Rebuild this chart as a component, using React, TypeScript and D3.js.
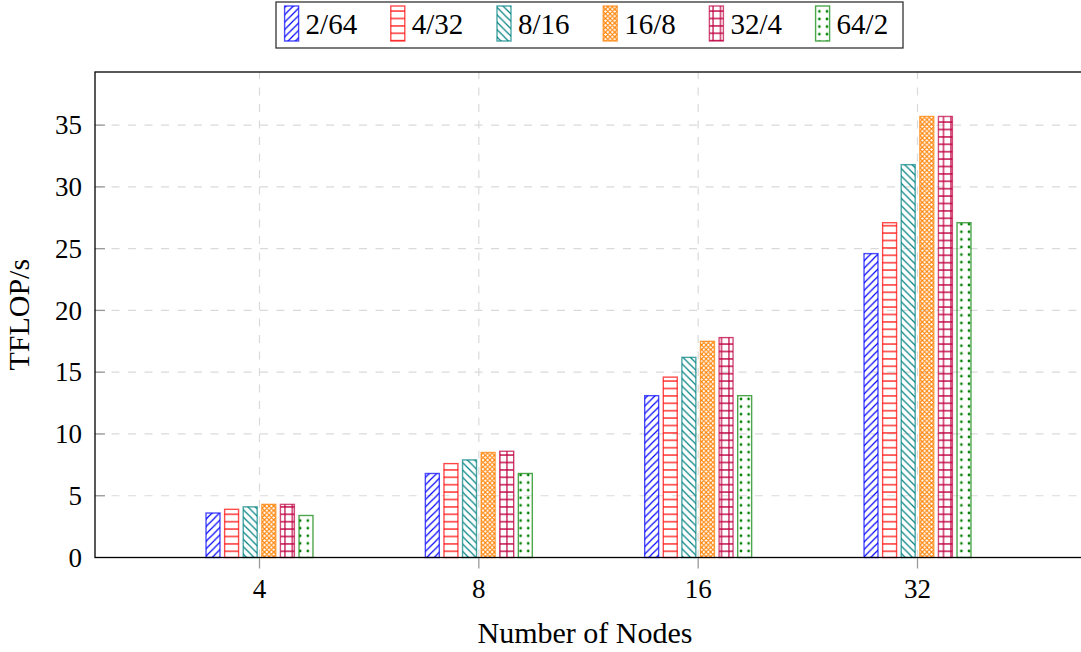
import React from "react";
import * as d3 from "d3";

// Node counts on the x axis and the configuration series (ranks / threads)
const nodeCounts = ["4", "8", "16", "32"];
const seriesNames = ["2/64", "4/32", "8/16", "16/8", "32/4", "64/2"];
const seriesColors = ["#0000ff", "#ff0000", "#008080", "#ff8000", "#bf0040", "#008000"];
const patternKinds = ["nelines", "hlines", "nwlines", "xdots", "grid", "dots"];

// TFLOP/s per series, one value per node count
const tflops2x64 = [3.6, 6.8, 13.1, 24.6];
const tflops4x32 = [3.9, 7.6, 14.6, 27.1];
const tflops8x16 = [4.1, 7.9, 16.2, 31.8];
const tflops16x8 = [4.3, 8.5, 17.5, 35.7];
const tflops32x4 = [4.3, 8.6, 17.8, 35.7];
const tflops64x2 = [3.4, 6.8, 13.1, 27.1];
const seriesValues = [tflops2x64, tflops4x32, tflops8x16, tflops16x8, tflops32x4, tflops64x2];

const yTicks = [0, 5, 10, 15, 20, 25, 30, 35];

const W = 1081;
const H = 652;
const left = 95;
const right = 1082;
const top = 72;
const bottom = 557.5;
const FONT = "'Liberation Serif', 'Times New Roman', serif";

function PatternDef({ id, kind, color }: { id: string; kind: string; color: string }) {
  const lw = 1.2;
  if (kind === "nelines") {
    const s = 7.4;
    return (
      <pattern id={id} patternUnits="userSpaceOnUse" width={s} height={s}>
        <path d={`M0,${s} L${s},0 M${-s / 2},${s / 2} L${s / 2},${-s / 2} M${s / 2},${s * 1.5} L${s * 1.5},${s / 2}`} stroke={color} strokeWidth={lw} />
      </pattern>
    );
  }
  if (kind === "nwlines") {
    const s = 7.4;
    return (
      <pattern id={id} patternUnits="userSpaceOnUse" width={s} height={s}>
        <path d={`M0,0 L${s},${s} M${-s / 2},${s / 2} L${s / 2},${s * 1.5} M${s / 2},${-s / 2} L${s * 1.5},${s / 2}`} stroke={color} strokeWidth={lw} />
      </pattern>
    );
  }
  if (kind === "hlines") {
    const s = 7.4;
    return (
      <pattern id={id} patternUnits="userSpaceOnUse" width={s} height={s}>
        <path d={`M0,${s / 2} L${s},${s / 2}`} stroke={color} strokeWidth={lw} />
      </pattern>
    );
  }
  if (kind === "grid") {
    const s = 7.4;
    return (
      <pattern id={id} patternUnits="userSpaceOnUse" width={s} height={s}>
        <path d={`M0,${s / 2} L${s},${s / 2} M${s / 2},0 L${s / 2},${s}`} stroke={color} strokeWidth={lw} />
      </pattern>
    );
  }
  if (kind === "xdots") {
    const s = 4.6;
    return (
      <pattern id={id} patternUnits="userSpaceOnUse" width={s} height={s}>
        <path d={`M0,${s / 2} L${s / 2},0 L${s},${s / 2} L${s / 2},${s} Z`} fill="none" stroke={color} strokeWidth={1.1} />
      </pattern>
    );
  }
  const s = 7.6;
  return (
    <pattern id={id} patternUnits="userSpaceOnUse" width={s} height={s}>
      <circle cx={s / 2} cy={s / 2} r={1.35} fill={color} />
    </pattern>
  );
}

export default function App() {
  const x = d3.scaleLinear().domain([-0.75, nodeCounts.length - 0.25]).range([left, right]);
  const y = d3.scaleLinear().domain([0, 39.3]).range([bottom, top]);
  const offset = d3
    .scaleBand<string>()
    .domain(seriesNames)
    .range([-55.8, 55.8])
    .paddingInner(0.25)
    .paddingOuter(0.125);

  const legendX = d3.scaleLinear().domain([0, 1]).range([284.6, 390.8]);

  return (
    <svg
      width={W}
      height={H}
      viewBox={`0 0 ${W} ${H}`}
      style={{ position: "absolute", left: 0, top: 0, background: "#fff" }}
      fontFamily={FONT}
    >
      <defs>
        {seriesNames.map((s, i) => (
          <PatternDef key={s} id={`pat-${i}`} kind={patternKinds[i]} color={seriesColors[i]} />
        ))}
      </defs>

      {/* grid */}
      <g stroke="#dadada" strokeWidth={1.2} strokeDasharray="8,8.5" fill="none">
        {yTicks.slice(1).map((t) => (
          <line key={`gy${t}`} x1={left} x2={right} y1={y(t)} y2={y(t)} />
        ))}
        {nodeCounts.map((n, i) => (
          <line key={`gx${n}`} x1={x(i)} x2={x(i)} y1={bottom} y2={top} />
        ))}
      </g>

      {/* tick marks */}
      <g stroke="#9a9a9a" strokeWidth={1.3}>
        {yTicks.slice(1).map((t) => (
          <line key={`ty${t}`} x1={left} x2={left + 10} y1={y(t)} y2={y(t)} />
        ))}
        {nodeCounts.map((n, i) => (
          <line key={`tx${n}`} x1={x(i)} x2={x(i)} y1={bottom} y2={bottom + 11} />
        ))}
      </g>

      {/* bars */}
      {seriesNames.map((s, si) => (
        <g key={s}>
          {seriesValues[si].map((v, ci) => {
            const bx = x(ci) + (offset(s) as number);
            return (
              <rect
                key={ci}
                x={bx}
                y={y(v)}
                width={offset.bandwidth()}
                height={y(0) - y(v)}
                fill={`url(#pat-${si})`}
                stroke={seriesColors[si]}
                strokeOpacity={0.7}
                strokeWidth={1.4}
              />
            );
          })}
        </g>
      ))}

      {/* axis box */}
      <rect x={left} y={top} width={right - left} height={bottom - top} fill="none" stroke="#000" strokeWidth={1.3} />

      {/* tick labels */}
      <g fontSize={27} fill="#000">
        {yTicks.map((t) => (
          <text key={`ly${t}`} x={82} y={y(t)} dy="0.34em" textAnchor="end">
            {t}
          </text>
        ))}
        {nodeCounts.map((n, i) => (
          <text key={`lx${n}`} x={x(i)} y={598} textAnchor="middle">
            {n}
          </text>
        ))}
      </g>

      {/* axis titles */}
      <text x={585} y={643} fontSize={30} textAnchor="middle" fill="#000">
        Number of Nodes
      </text>
      <text
        transform={`translate(29, ${(top + bottom) / 2}) rotate(-90)`}
        fontSize={30}
        textAnchor="middle"
        fill="#000"
      >
        TFLOP/s
      </text>

      {/* legend */}
      <rect x={276} y={2} width={627} height={46} fill="#fff" stroke="#333" strokeWidth={1.3} />
      {seriesNames.map((s, i) => (
        <g key={`lg${s}`} transform={`translate(${legendX(i)}, 0)`}>
          <rect
            x={0}
            y={6}
            width={14}
            height={35}
            fill={`url(#pat-${i})`}
            stroke={seriesColors[i]}
            strokeOpacity={0.7}
            strokeWidth={1.4}
          />
          <text x={21} y={34} fontSize={29} fill="#000">
            {s}
          </text>
        </g>
      ))}
    </svg>
  );
}
